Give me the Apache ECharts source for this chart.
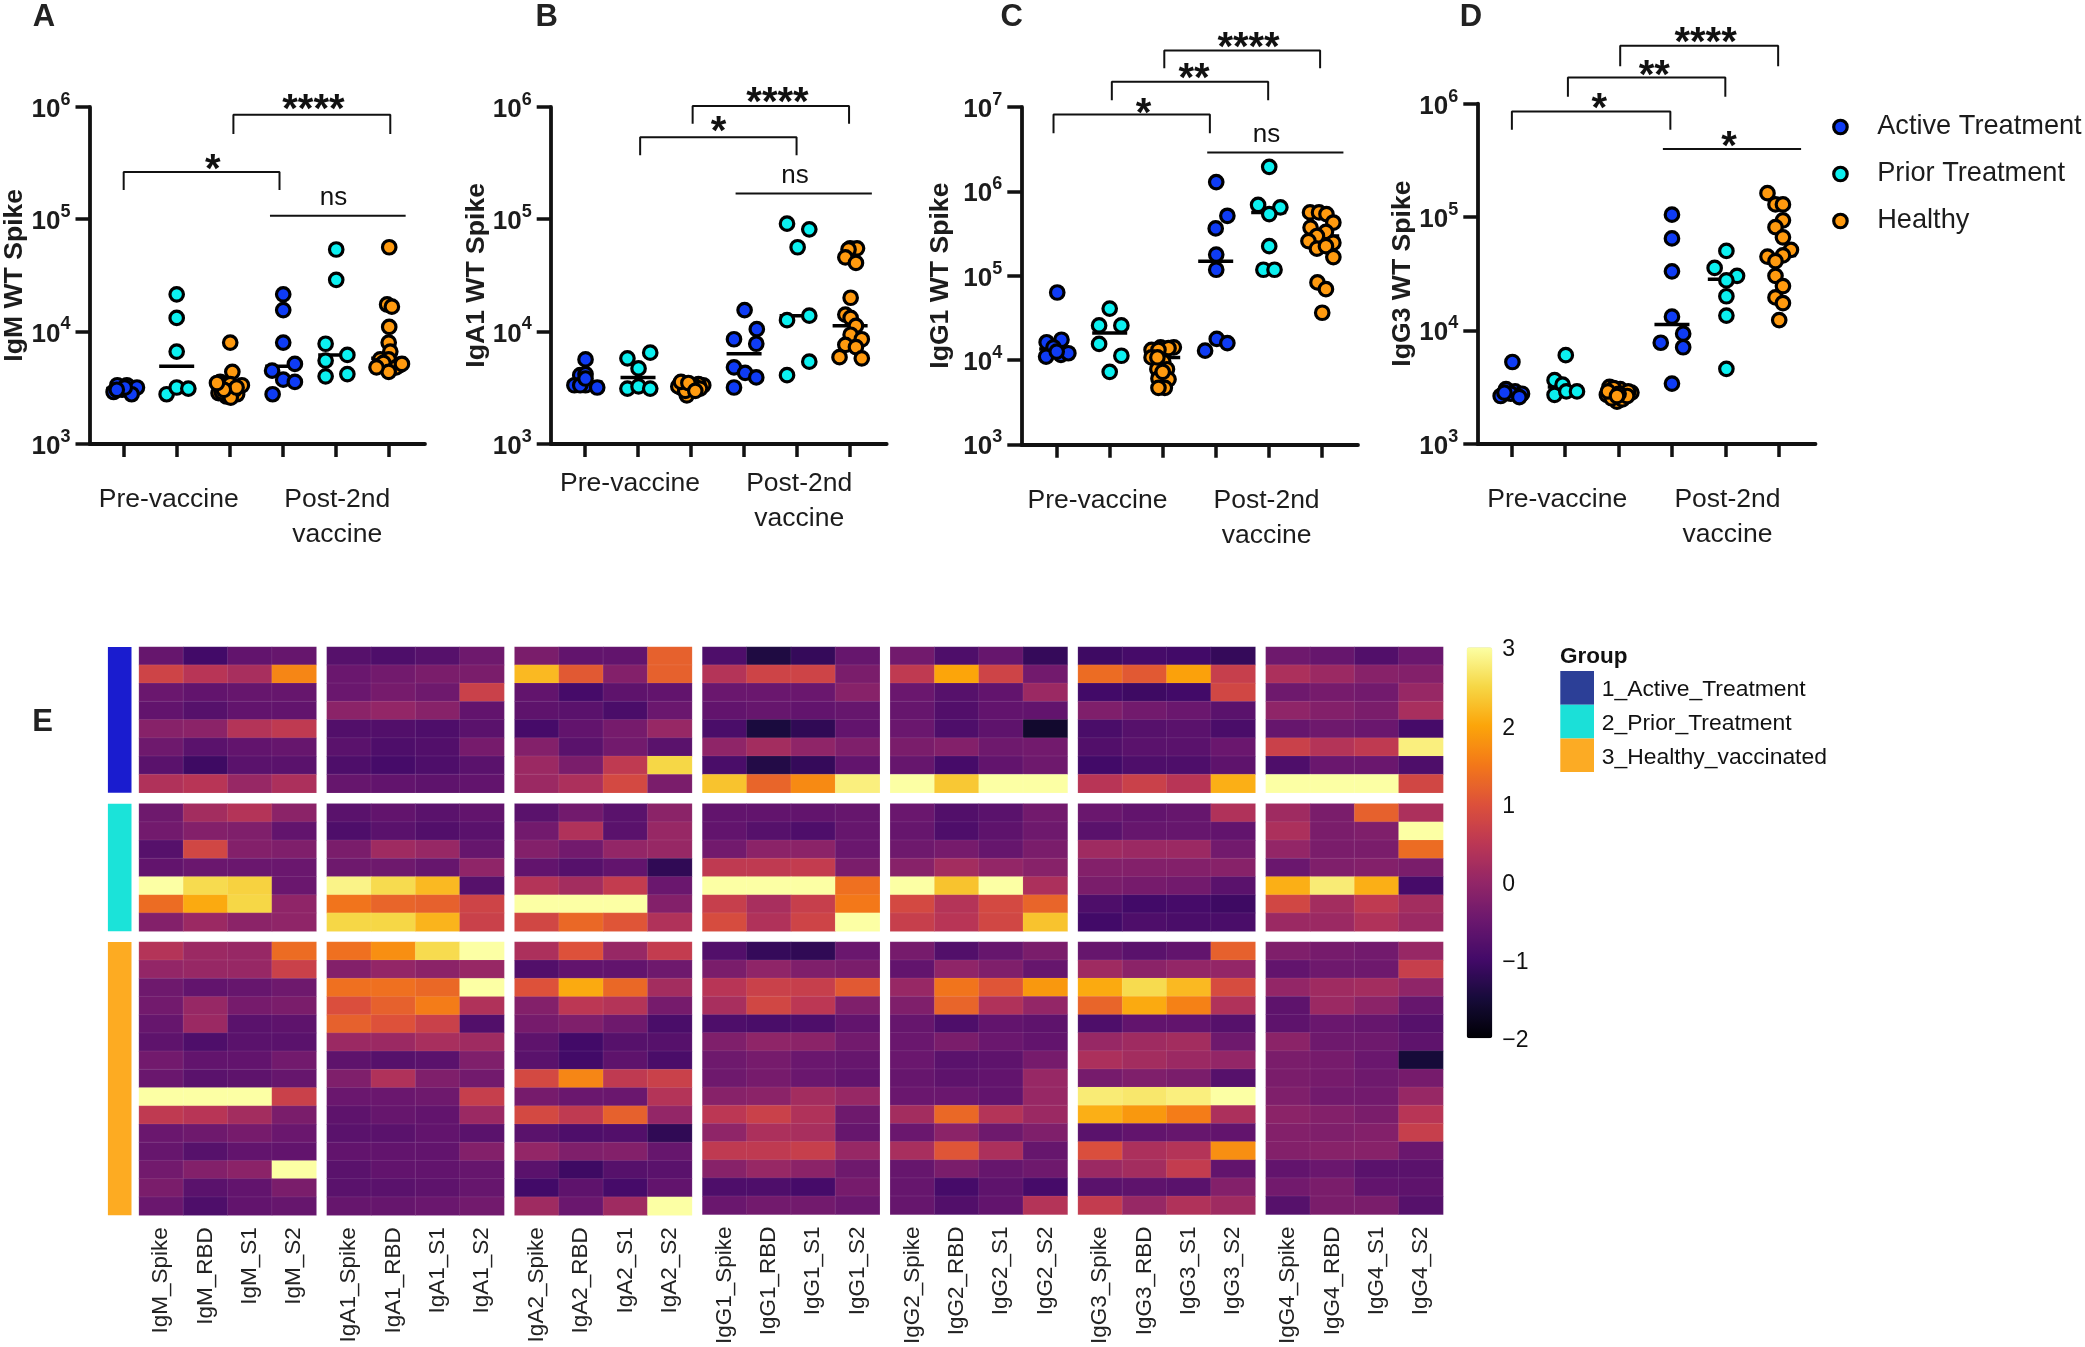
<!DOCTYPE html>
<html><head><meta charset="utf-8">
<style>html,body{margin:0;padding:0;background:#fff}#c{width:2085px;height:1347px}</style>
<script src="https://cdn.jsdelivr.net/npm/echarts@6/dist/echarts.min.js"></script>
</head><body><div id="c"></div>
<script>
// ---------- Scatter panels: each point is [offset from its group's tick, log10 of value] ----------
const A_points=[
 [[-.19,3.46],[-.12,3.52],[.06,3.52],[-.03,3.48],[.25,3.50],[.15,3.44],[.02,3.50],[-.13,3.48]],
 [[0,4.33],[0,4.12],[0,3.82],[-.19,3.44],[0,3.50],[.22,3.49]],
 [[.01,3.90],[.05,3.64],[-.18,3.55],[-.21,3.45],[-.12,3.53],[.01,3.53],[.23,3.52],[-.06,3.42],[.14,3.44],[.09,3.48],[-.15,3.46],[.02,3.41],[.13,3.50],[-.11,3.48],[-.24,3.54]],
 [[.01,4.33],[.01,4.19],[.01,3.90],[.23,3.71],[-.20,3.65],[.01,3.57],[.23,3.55],[-.19,3.44]],
 [[.01,4.73],[.01,4.46],[-.19,3.89],[.22,3.79],[-.19,3.74],[-.19,3.60],[.22,3.62]],
 [[.01,4.75],[-.03,4.24],[.06,4.22],[.01,4.04],[0,3.90],[.03,3.82],[-.16,3.75],[0,3.75],[-.2,3.69],[.21,3.70],[-.1,3.72],[.14,3.68],[0,3.64],[.25,3.71],[-.23,3.68]]
];
const A_medians=[3.49,3.69,3.50,3.69,3.79,3.76];
const B_points=[
 [[.01,3.75],[-.09,3.61],[.01,3.62],[-.2,3.52],[.01,3.52],[.23,3.50],[-.09,3.52],[.01,3.58]],
 [[.23,3.81],[-.2,3.76],[.01,3.67],[-.2,3.49],[.01,3.51],[.23,3.49]],
 [[-.08,3.43],[-.19,3.50],[.23,3.52],[.11,3.50],[-.02,3.49],[-.14,3.53],[-.02,3.52],[.14,3.53],[-.24,3.51],[.04,3.52],[-.11,3.47],[.17,3.49],[-.19,3.55],[-.05,3.54],[.08,3.47]],
 [[.01,4.19],[.24,4.02],[-.19,3.93],[.23,3.89],[-.19,3.68],[.02,3.63],[.23,3.59],[-.19,3.50]],
 [[-.19,4.96],[.23,4.91],[.01,4.75],[-.19,4.10],[.23,4.14],[.23,3.73],[-.19,3.61]],
 [[0,4.74],[.13,4.74],[-.03,4.73],[-.09,4.66],[.11,4.61],[.01,4.30],[-.09,4.15],[.01,4.12],[.11,4.05],[.01,3.97],[.22,3.93],[-.09,3.88],[.11,3.86],[-.2,3.77],[.22,3.76]]
];
const B_medians=[3.55,3.59,3.50,3.80,4.14,4.05];
const C_points=[
 [[.01,4.80],[-.19,4.21],[.09,4.24],[-.06,4.15],[-.2,4.04],[.08,4.06],[.22,4.08],[0,4.10]],
 [[0,4.61],[-.2,4.41],[.22,4.41],[-.2,4.19],[.22,4.05],[0,3.86]],
 [[.21,4.15],[-.21,4.12],[-.04,4.15],[.11,4.14],[-.08,4.12],[-.21,4.03],[.01,3.98],[-.1,3.89],[.08,3.89],[-.08,3.78],[.11,3.77],[.04,3.67],[-.08,3.67],[0,3.86],[-.1,4.03]],
 [[.01,6.11],[.22,5.71],[0,5.56],[.01,5.25],[.01,5.07],[.02,4.25],[.22,4.20],[-.2,4.11]],
 [[.01,6.29],[-.2,5.84],[.22,5.81],[.01,5.73],[.01,5.35],[-.1,5.07],[.11,5.07]],
 [[-.22,5.75],[-.05,5.75],[.09,5.73],[.22,5.63],[-.21,5.57],[.08,5.52],[-.09,5.47],[-.25,5.41],[.22,5.39],[-.09,5.32],[.08,5.35],[.22,5.22],[-.08,4.92],[.08,4.84],[.01,4.56]]
];
const C_medians=[4.13,4.32,4.03,5.17,5.75,5.47];
const D_points=[
 [[.01,3.72],[-.11,3.48],[.06,3.46],[-.21,3.42],[-.02,3.44],[.19,3.44],[.14,3.41],[-.14,3.45]],
 [[.01,3.78],[-.2,3.56],[-.05,3.52],[-.2,3.43],[.02,3.46],[.22,3.46]],
 [[-.17,3.50],[-.03,3.37],[-.05,3.46],[.12,3.45],[.24,3.45],[-.22,3.43],[.03,3.48],[-.13,3.40],[.07,3.39],[.18,3.46],[-.09,3.49],[-.2,3.46],[.16,3.42],[0,3.44],[-.03,3.42]],
 [[0,5.02],[0,4.81],[0,4.52],[0,4.12],[.21,3.97],[-.21,3.89],[.21,3.85],[0,3.53]],
 [[.02,4.70],[-.2,4.55],[.22,4.48],[.02,4.44],[.02,4.30],[.02,4.13],[.02,3.66]],
 [[-.21,5.21],[-.06,5.11],[.08,5.11],[.08,4.97],[-.06,4.91],[.08,4.82],[.23,4.71],[-.21,4.65],[.08,4.66],[-.06,4.61],[-.06,4.48],[.08,4.39],[-.06,4.29],[.08,4.24],[.01,4.09]]
];
const D_medians=[3.45,3.50,3.44,4.05,4.45,4.66];
// brackets: [x from, x to, log10 of top, log10 of foot]; flat lines have top = foot
const A_brackets=[[1,3.94,5.42,5.26],[3.07,6.03,5.93,5.76],[3.76,6.32,5.03,5.03]];
const B_brackets=[[2.04,4.99,5.73,5.57],[3.03,5.98,6.01,5.85],[3.84,6.41,5.23,5.23]];
const C_brackets=[[.94,3.89,6.91,6.69],[2.04,4.99,7.30,7.08],[3.03,5.97,7.67,7.46],[3.84,6.41,6.46,6.46]];
const D_brackets=[[1,3.97,5.93,5.77],[2.05,5,6.23,6.06],[3.03,5.99,6.51,6.33],[3.83,6.42,5.60,5.60]];
// significance labels: [x, log10, text]
const A_marks=[[2.68,5.52,'*'],[4.58,6.05,'****'],[4.96,5.19,'ns']];
const B_marks=[[3.52,5.86,'*'],[4.63,6.12,'****'],[4.96,5.39,'ns']];
const C_marks=[[2.64,7.03,'*'],[3.59,7.44,'**'],[4.62,7.81,'****'],[4.96,6.67,'ns']];
const D_marks=[[2.64,6.03,'*'],[3.67,6.32,'**'],[4.63,6.61,'****'],[5.07,5.70,'*']];
const groupNames=['Active Treatment','Prior Treatment','Healthy'];
const groupColors=['#0f3cf5','#0cf0f0','#ff9a0f'];
const tickGroups=[1,2,3,4,5,6];
const yDecades={A:[3,6],B:[3,6],C:[3,7],D:[3,6]};
const yTitles={A:'IgM WT Spike',B:'IgA1 WT Spike',C:'IgG1 WT Spike',D:'IgG3 WT Spike'};
// ---------- Heatmap rows × [Spike, RBD, S1, S2] ----------
const subunits=['Spike','RBD','S1','S2'];
const isotypes=['IgM','IgA1','IgA2','IgG1','IgG2','IgG3','IgG4'];
const IgM_active=[[-.55,-1,-.6,-.55],[.75,.45,.25,1.65],[-.5,-.6,-.55,-.55],[-.6,-.75,-.6,-.6],[-.15,-.1,.4,.55],[-.45,-.7,-.6,-.55],[-.7,-1.05,-.7,-.7],[.35,.45,.05,.3]];
const IgM_prior=[[-.45,.2,.4,-.1],[-.4,-.2,-.25,-.6],[-.75,.8,-.2,-.25],[-.6,-.5,-.5,-.5],[3,2.55,2.45,-.5],[1.35,2.05,2.5,-.05],[-.2,.1,-.1,-.05]];
const IgM_healthy=[[.4,.1,.05,1.35],[0,.05,.05,.7],[-.45,-.6,-.55,-.45],[-.4,.05,-.35,-.3],[-.55,.1,-.7,-.65],[-.65,-.85,-.7,-.7],[-.4,-.6,-.6,-.4],[-.5,-.7,-.65,-.55],[3,3,3,.7],[.55,.45,.2,-.3],[-.5,-.45,-.35,-.5],[-.55,-.75,-.6,-.6],[-.4,-.2,-.1,3],[-.3,-.7,-.6,-.3],[-.5,-.85,-.6,-.55]];
const IgA1_active=[[-.75,-.85,-.75,-.45],[-.5,-.4,-.3,-.3],[-.5,-.35,-.45,.7],[-.1,0,-.15,-.6],[-.8,-.8,-.85,-.7],[-.7,-.85,-.8,-.35],[-.85,-.95,-.85,-.7],[-.55,-.6,-.65,-.6]];
const IgA1_prior=[[-.7,-.6,-.7,-.6],[-.85,-.7,-.8,-.7],[-.3,.15,.05,-.55],[-.45,-.45,-.55,-.05],[2.85,2.55,2.2,-.75],[1.45,1.25,1.2,.75],[2.5,2.5,2.15,.7]];
const IgA1_healthy=[[1.4,1.75,2.55,3],[-.2,0,-.1,.05],[1.4,1.4,1.3,3],[.95,1.2,1.55,.35],[1.2,1,.7,-.8],[.1,.1,.25,.15],[-.65,-.75,-.7,-.25],[-.25,.35,-.25,-.4],[-.5,-.5,-.45,.65],[-.65,-.55,-.6,.1],[-.7,-.7,-.6,-.7],[-.6,-.6,-.6,-.2],[-.7,-.6,-.6,-.55],[-.7,-.7,-.65,-.55],[-.55,-.55,-.5,-.4]];
const IgA2_active=[[-.3,-.6,-.6,1.2],[2.2,1.1,-.2,1.2],[-.6,-.95,-.65,-.6],[-.65,-.7,-.9,-.5],[-.95,-.6,-.35,.05],[-.2,-.7,-.4,-.7],[.1,-.3,.55,2.5],[.1,.3,.85,-.3]];
const IgA2_prior=[[-.7,-.4,-.7,-.1],[-.4,.35,-.7,.05],[-.2,-.4,0,.05],[-.6,-.75,-.6,-1.2],[.4,.2,.6,-.5],[3,3,3,-.2],[.8,1.3,1.05,.35]];
const IgA2_healthy=[[.3,1,.05,.6],[-.8,-.6,-.6,-.45],[1,2.05,1.3,.2],[-.2,.5,.4,-.35],[-.35,-.25,-.45,-.9],[-.65,-1,-.75,-.75],[-.7,-1,-.65,-.9],[.85,1.65,.55,.7],[-.35,-.5,-.5,.4],[.85,.55,1.2,0],[-.7,-.85,-.8,-1.2],[0,-.25,-.2,-.55],[-.7,-1.05,-.75,-.7],[-1,-.65,-.95,-.6],[.15,-.5,.15,3]];
const IgG1_active=[[-.85,-1.4,-1.15,-.55],[.4,.75,.75,-.3],[-.5,-.5,-.5,-.15],[-.6,-.55,-.6,-.55],[-.9,-1.45,-1.2,-.6],[-.05,.2,-.05,-.25],[-.9,-1.35,-1.15,-.6],[2.3,1.25,1.7,2.8]];
const IgG1_prior=[[-.6,-.6,-.6,-.55],[-.6,-.75,-.85,-.55],[-.4,-.1,-.1,-.5],[.55,.55,.6,-.3],[3,3,3,1.4],[.65,.25,.65,1.5],[.9,.35,.75,3]];
const IgG1_healthy=[[-.8,-1.15,-1.2,-.5],[-.3,-.05,-.25,-.3],[.45,.7,.65,1.1],[.25,.8,.5,-.25],[-.85,-.9,-.85,-.6],[-.25,-.05,-.1,-.4],[-.45,-.35,-.5,-.55],[-.45,-.35,-.5,-.6],[-.15,-.1,.2,.05],[.5,.7,.35,-.45],[-.05,.3,.25,-.55],[.55,.55,.65,.05],[-.15,.05,-.1,-.45],[-.85,-.85,-.95,-.35],[-.5,-.4,-.4,-.5]];
const IgG2_active=[[-.4,-.85,-.55,-1.15],[.55,2,.75,-.4],[-.5,-.75,-.6,.1],[-.55,-.8,-.6,-.6],[-.5,-.85,-.65,-1.6],[-.3,-.2,-.45,-.4],[-.55,-.95,-.6,-.45],[3,2.35,3,3]];
const IgG2_prior=[[-.5,-.8,-.7,-.4],[-.55,-.85,-.65,-.45],[-.45,-.35,-.55,-.3],[-.15,.2,0,-.15],[3,2.3,3,.3],[.85,.4,.85,1.25],[.65,.45,.8,2.3]];
const IgG2_healthy=[[-.35,-.8,-.55,-.3],[-.6,-.05,-.25,-.55],[.05,1.45,1.05,1.85],[-.25,1.25,.35,0],[-.55,-.85,-.6,-.65],[-.5,-.3,-.5,-.6],[-.5,-.7,-.65,-.35],[-.55,-.65,-.6,.05],[-.5,-.5,-.6,.05],[.2,1.3,.4,.1],[-.5,-.1,-.45,-.25],[.25,1.05,.3,-.55],[-.55,-.3,-.55,-.45],[-.55,-.95,-.65,-.95],[-.55,-.8,-.6,.4]];
const IgG3_active=[[-1.05,-.95,-1,-1.15],[1.35,1.1,1.95,.65],[-1,-1.05,-1,.8],[-.25,-.4,-.5,-.7],[-.9,-.75,-.7,-.9],[-.8,-.7,-.7,-.5],[-1,-.85,-.85,-.65],[.45,.7,.45,2.1]];
const IgG3_prior=[[-.5,-.6,-.55,.35],[-.7,-.55,-.55,-.6],[.15,.1,.1,-.4],[-.2,-.2,-.2,-.15],[-.3,-.35,-.4,-.7],[-.85,-1,-.95,-1.05],[-1,-.85,-.9,-.9]];
const IgG3_healthy=[[-.55,-.7,-.6,1.2],[.15,-.1,0,0],[2.05,2.55,2.2,.9],[1.25,2.05,1.6,.35],[-.85,-.6,-.6,-.75],[.05,.15,.2,-.45],[.3,.2,.1,0],[-.35,-.25,-.3,-.75],[2.75,2.7,2.8,3],[2.1,1.85,1.55,.3],[-.7,-.6,-.55,-.6],[.95,.3,.4,1.75],[.1,.2,.6,-.6],[-.7,-.65,-.7,-.2],[.6,.05,.35,.15]];
const IgG4_active=[[-.45,-.55,-.8,-.5],[.3,.1,-.15,-.2],[-.45,-.35,-.4,.05],[-.05,-.2,-.3,.25],[-.55,-.45,-.5,-.95],[.7,.4,.55,2.8],[-.85,-.5,-.5,-.85],[3,3,3,.8]];
const IgG4_prior=[[.15,-.3,1.2,.3],[.3,-.3,-.25,3],[0,-.3,-.3,1.35],[-.5,-.25,-.2,-.3],[2.1,2.75,2.1,-.95],[.8,.2,.55,.2],[.1,.1,.35,.1]];
const IgG4_healthy=[[-.25,-.35,-.4,.05],[-.6,-.45,-.45,.65],[0,.15,.2,-.05],[-.65,.1,-.1,-.55],[-.65,-.5,-.55,-.75],[-.1,-.45,-.45,-.65],[-.3,-.35,-.5,-1.5],[-.3,-.35,-.45,-.35],[-.25,-.4,-.4,.05],[-.1,-.2,-.3,.45],[-.2,-.25,-.2,.65],[-.2,-.15,-.15,-.5],[-.6,-.5,-.7,-.7],[-.4,-.3,-.6,-.65],[-.75,-.3,-.3,-.75]];
const heatBlocks=[[IgM_active,IgM_prior,IgM_healthy],[IgA1_active,IgA1_prior,IgA1_healthy],[IgA2_active,IgA2_prior,IgA2_healthy],[IgG1_active,IgG1_prior,IgG1_healthy],[IgG2_active,IgG2_prior,IgG2_healthy],[IgG3_active,IgG3_prior,IgG3_healthy],[IgG4_active,IgG4_prior,IgG4_healthy]];
const annotationColors=['#1a1ccf','#1be3d9','#fdab22'];
const legendGroups=['1_Active_Treatment','2_Prior_Treatment','3_Healthy_vaccinated'];
const legendColors=['#2c3f97','#1be0d8','#fcab24'];
const inferno=['#000004','#160b39','#420a68','#6a176e','#932667','#bc3754','#dd513a','#f37819','#fca50a','#f6d746','#fcffa4'];

// ---------- layout ----------
const FF='"Liberation Sans",Arial,sans-serif', INK='#1c1c1c';
const panels=[
 {k:'A',pts:A_points,med:A_medians,br:A_brackets,mk:A_marks,l:89.5,r:425,t:107,b:443.6,x0:.355,x1:6.685,gap:61,lab:[1.85,5.03],m:39,tx:44},
 {k:'B',pts:B_points,med:B_medians,br:B_brackets,mk:B_marks,l:550.7,r:886.7,t:107,b:443.6,x0:.353,x1:6.69,gap:61,lab:[1.85,5.04],m:23,tx:546.7},
 {k:'C',pts:C_points,med:C_medians,br:C_brackets,mk:C_marks,l:1021.3,r:1358,t:107,b:444.3,x0:.332,x1:6.685,gap:67,lab:[1.77,4.96],m:39,tx:1011.7},
 {k:'D',pts:D_points,med:D_medians,br:D_brackets,mk:D_marks,l:1477.3,r:1815.5,t:103.6,b:443.6,x0:.352,x1:6.69,gap:61,lab:[1.85,5.04],m:39,tx:1471}
];
const grid=[],xAxis=[],yAxis=[],series=[],graphic=[],heatIdx=[];
const p10=v=>Math.pow(10,v);
panels.forEach(P=>{
  const i=grid.length;
  grid.push({left:P.l,top:P.t,width:P.r-P.l,height:P.b-P.t});
  xAxis.push({gridIndex:i,type:'value',min:P.x0,max:P.x1,splitLine:{show:false},
    axisLine:{onZero:false,lineStyle:{color:'#111',width:3.8}},
    axisTick:{customValues:tickGroups,length:13.5,lineStyle:{color:'#111',width:3.5}},
    axisLabel:{customValues:P.lab,margin:P.m,hideOverlap:false,
      formatter:v=>v<3?'Pre-vaccine':'Post-2nd\nvaccine',
      fontFamily:FF,fontSize:26.5,lineHeight:35,color:INK,align:'center',verticalAlign:'top'}});
  const dec=yDecades[P.k];
  yAxis.push({gridIndex:i,type:'log',logBase:10,min:p10(dec[0]),max:p10(dec[1]),
    splitLine:{show:false},minorTick:{show:false},minorSplitLine:{show:false},
    axisLine:{onZero:false,lineStyle:{color:'#111',width:3.8}},
    axisTick:{length:14,lineStyle:{color:'#111',width:3.5}},
    name:yTitles[P.k],nameLocation:'middle',nameRotate:90,nameGap:P.gap,nameMoveOverlap:false,
    nameTextStyle:{fontFamily:FF,fontWeight:'bold',fontSize:26.6,color:INK},
    axisLabel:{margin:19,formatter:v=>'{b|10}{s|'+Math.round(Math.log10(v))+'}',
      rich:{b:{fontFamily:FF,fontWeight:'bold',fontSize:26,color:INK,lineHeight:32,verticalAlign:'bottom'},
            s:{fontFamily:FF,fontWeight:'bold',fontSize:18,color:INK,lineHeight:32,verticalAlign:'top'}}}});
  P.br.forEach(b=>{
    const d=b[2]===b[3]?[[b[0],p10(b[2])],[b[1],p10(b[2])]]:[[b[0],p10(b[3])],[b[0],p10(b[2])],[b[1],p10(b[2])],[b[1],p10(b[3])]];
    series.push({type:'line',xAxisIndex:i,yAxisIndex:i,clip:false,silent:true,symbol:'none',z:2,data:d,lineStyle:{color:'#111',width:2}});
  });
  series.push({type:'scatter',xAxisIndex:i,yAxisIndex:i,clip:false,silent:true,symbolSize:0,z:3,itemStyle:{opacity:1},
    data:P.mk.map(m=>({value:[m[0],p10(m[1])],label:{show:true,position:'inside',formatter:m[2],
      fontFamily:FF,color:'#111',fontWeight:m[2]==='ns'?'normal':'bold',fontSize:m[2]==='ns'?26:40,offset:[0,m[2]==='ns'?0:10]}}))});
  series.push({type:'scatter',xAxisIndex:i,yAxisIndex:i,silent:true,symbol:'rect',symbolSize:[35,3.5],z:4,
    itemStyle:{color:'#000',opacity:1},data:P.med.map((m,j)=>[tickGroups[j],p10(m)])});
  P.pts.forEach((g,j)=>{
    const c=j%3;
    series.push({type:'scatter',name:groupNames[c],xAxisIndex:i,yAxisIndex:i,symbol:'circle',symbolSize:13.5,z:5,silent:true,
      itemStyle:{color:groupColors[c],borderColor:'#000',borderWidth:3.2,opacity:1},
      data:g.map(q=>[tickGroups[j]+q[0],p10(q[1])])});
  });
  graphic.push({type:'text',x:P.tx,y:17,style:{text:P.k,font:'bold 31px '+FF,fill:'#222',textAlign:'center',textVerticalAlign:'middle'}});
});
graphic.push({type:'text',x:42.5,y:722,style:{text:'E',font:'bold 31px '+FF,fill:'#222',textAlign:'center',textVerticalAlign:'middle'}});

// heatmap
const rowTops=[646.9,803.8,942], rowH=18.22;
heatBlocks.forEach((blk,bi)=>{
  const left=139.1+bi*187.8, cols=subunits.map(s=>isotypes[bi]+'_'+s);
  blk.forEach((rows,gi)=>{
    const i=grid.length;
    grid.push({left:left,top:rowTops[gi],width:177.2,height:rows.length*rowH});
    xAxis.push({gridIndex:i,type:'category',data:cols,show:gi===2,axisLine:{show:false},axisTick:{show:false},splitLine:{show:false},
      axisLabel:{rotate:90,margin:12,interval:0,fontFamily:FF,fontSize:22.5,color:'#222'}});
    yAxis.push({gridIndex:i,type:'category',inverse:true,show:false,data:rows.map((_,r)=>r)});
    const d=[];rows.forEach((row,r)=>row.forEach((v,c)=>d.push([c,r,v])));
    heatIdx.push(series.length);
    series.push({type:'heatmap',xAxisIndex:i,yAxisIndex:i,silent:true,data:d,
      itemStyle:{borderColor:'rgba(255,255,255,0.09)',borderWidth:1},emphasis:{disabled:true}});
  });
});
// group annotation strips
heatBlocks[0].forEach((rows,gi)=>{
  const i=grid.length;
  grid.push({left:107.9,top:rowTops[gi],width:23.6,height:rows.length*rowH});
  xAxis.push({gridIndex:i,type:'category',data:[legendGroups[gi]],show:false});
  yAxis.push({gridIndex:i,type:'value',min:0,max:rows.length,show:false});
  series.push({type:'bar',xAxisIndex:i,yAxisIndex:i,barWidth:'100%',silent:true,data:[rows.length],itemStyle:{color:annotationColors[gi]}});
});
// colour-bar scale (labels sit a touch below the bar ends, as in the reference)
{const i=grid.length;
 grid.push({left:1466.7,top:650,width:25.6,height:391});
 xAxis.push({gridIndex:i,type:'value',min:0,max:1,show:false});
 yAxis.push({gridIndex:i,type:'value',position:'right',min:-2,max:3,interval:1,splitLine:{show:false},axisLine:{show:false},axisTick:{show:false},
   axisLabel:{margin:10,fontFamily:FF,fontSize:23,color:'#111',formatter:v=>String(v).replace('-','\u2212')}});
}
// group legend
graphic.push({type:'text',x:1560,y:657,style:{text:'Group',font:'bold 22.5px '+FF,fill:'#111',textVerticalAlign:'middle'}});
legendGroups.forEach((t,k)=>{
  graphic.push({type:'rect',shape:{x:1560.3,y:671+k*33.7,width:33.7,height:33.7},style:{fill:legendColors[k]}});
  graphic.push({type:'text',x:1601.7,y:690+k*33.7,style:{text:t,font:'22.9px '+FF,fill:'#111',textVerticalAlign:'middle'}});
});

const chart=echarts.init(document.getElementById('c'),null,{renderer:'canvas'});
chart.setOption({
  animation:false,backgroundColor:'#fff',grid,xAxis,yAxis,series,graphic,
  legend:{left:1832.1,top:113.5,padding:0,orient:'vertical',itemGap:20,itemWidth:13.5,itemHeight:13.5,selectedMode:false,data:groupNames,
    icon:'circle',itemStyle:{borderColor:'#000',borderWidth:3.2},
    textStyle:{fontFamily:FF,fontSize:27.2,color:INK,padding:[0,0,0,25]}},
  visualMap:{type:'continuous',show:true,min:-2,max:3,seriesIndex:heatIdx,left:1466.7,top:647.3,padding:0,itemWidth:25.6,itemHeight:391,
    calculable:false,realtime:false,hoverLink:false,text:null,inRange:{color:inferno}}
});
</script></body></html>
